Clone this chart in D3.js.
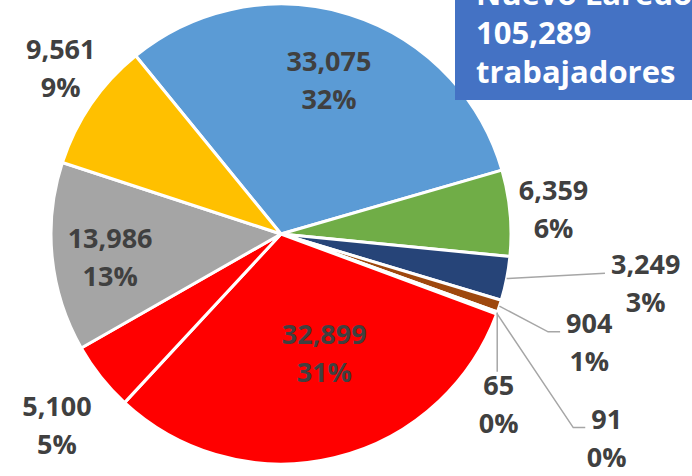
<!DOCTYPE html>
<html>
<head>
<meta charset="utf-8">
<script src="https://cdn.jsdelivr.net/npm/d3@7"></script>
<style>
  body { margin: 0; background: #fff; }
  svg { display: block; }
  .lbl { font-family: "Open Sans", Lato, sans-serif; font-weight: 700; font-size: 27px; fill: #404040; }
  .title { font-family: "Open Sans", Lato, sans-serif; font-weight: 700; font-size: 31px; fill: #fff; }
  .leader { fill: none; stroke: #A6A6A6; stroke-width: 1.5; }
</style>
</head>
<body>
<div id="chart"></div>
<script>
// slice values, clockwise from the blue one
var categories = ["a", "b", "c", "d", "e", "f", "g", "h", "i", "j"];
var values = [33075, 6359, 3249, 904, 65, 91, 32899, 5100, 13986, 9561];
var valueLabels = ["33,075", "6,359", "3,249", "904", "65", "91", "32,899", "5,100", "13,986", "9,561"];
var pctLabels = ["32%", "6%", "3%", "1%", "0%", "0%", "31%", "5%", "13%", "9%"];
var colors = ["#5B9BD5", "#70AD47", "#264478", "#9E480E", "#636363", "#997300", "#FF0000", "#FF0000", "#A5A5A5", "#FFC000"];
var titleLines = ["Nuevo Laredo", "105,289", "trabajadores"];

// label placement: radius factor, angle tweak (deg), leader line?
var labelPlace = [
  {r: 0.70, da: 0,    leader: false},
  {r: 1.19, da: 0,    leader: false},
  {r: 1.60, da: -3.5, leader: true},
  {r: 1.42, da: 1,    leader: true},
  {r: 1.20, da: 18,   leader: true},
  {r: 1.67, da: 11.8, leader: true},
  {r: 0.55, da: -6.6, leader: false},
  {r: 1.28, da: -2,   leader: false},
  {r: 0.75, da: -2,   leader: false},
  {r: 1.20, da: 2.6,  leader: false}
];

var width = 692, height = 476;
var cx = 281, cy = 234, R = 230;
var startDeg = -39.2;

var svg = d3.select("#chart").append("svg")
    .attr("width", width)
    .attr("height", height);

var rad = function(d) { return d * Math.PI / 180; };

var pie = d3.pie()
    .sort(null)
    .value(function(d) { return d; })
    .startAngle(rad(startDeg))
    .endAngle(rad(startDeg) + 2 * Math.PI);

var arcs = pie(values);

var arc = d3.arc().innerRadius(0).outerRadius(R);

var g = svg.append("g").attr("transform", "translate(" + cx + "," + cy + ")");

g.selectAll("path.slice")
    .data(arcs)
  .enter().append("path")
    .attr("class", "slice")
    .attr("d", arc)
    .attr("fill", function(d, i) { return colors[i]; })
    .attr("stroke", "#fff")
    .attr("stroke-width", 3)
    .attr("stroke-linejoin", "round");

function pointAt(angle, r) {
  return [Math.sin(angle) * r, -Math.cos(angle) * r];
}

var lineH = 38;

arcs.forEach(function(d, i) {
  var p = labelPlace[i];
  var mid = (d.startAngle + d.endAngle) / 2;
  var pos = pointAt(mid + rad(p.da), R * p.r);

  var t = g.append("text")
      .attr("class", "lbl")
      .attr("text-anchor", "middle")
      .attr("x", pos[0])
      .attr("y", pos[1]);
  t.append("tspan").attr("x", pos[0]).attr("dy", -lineH / 2 + 10).text(valueLabels[i]);
  t.append("tspan").attr("x", pos[0]).attr("dy", lineH).text(pctLabels[i]);

  if (p.leader) {
    var bb = t.node().getBBox();
    var s = pointAt(mid, R);
    var pts;
    if (s[0] > bb.x && s[0] < bb.x + bb.width) {
      // label sits below the slice: straight down to its top
      pts = [s, [s[0], bb.y + 6]];
    } else {
      var w0 = t.select("tspan").node().getComputedTextLength();
      var ex = pos[0] - w0 / 2 - 6, ey = pos[1] - 10;
      pts = [s, [ex - 12, ey], [ex, ey]];
      if (Math.abs(s[1] - ey) < 12) pts = [s, [ex, ey]];
    }
    g.insert("path", "text")
        .attr("class", "leader")
        .attr("d", d3.line()(pts));
  }
});

// title box (first line is cut by the top edge, as in the original)
svg.append("rect")
    .attr("x", 455)
    .attr("y", -10)
    .attr("width", 260)
    .attr("height", 110)
    .attr("fill", "#4472C4");

svg.selectAll("text.title")
    .data(titleLines)
  .enter().append("text")
    .attr("class", "title")
    .attr("x", 476)
    .attr("y", function(d, i) { return 5 + i * 39; })
    .text(function(d) { return d; });
</script>
</body>
</html>
